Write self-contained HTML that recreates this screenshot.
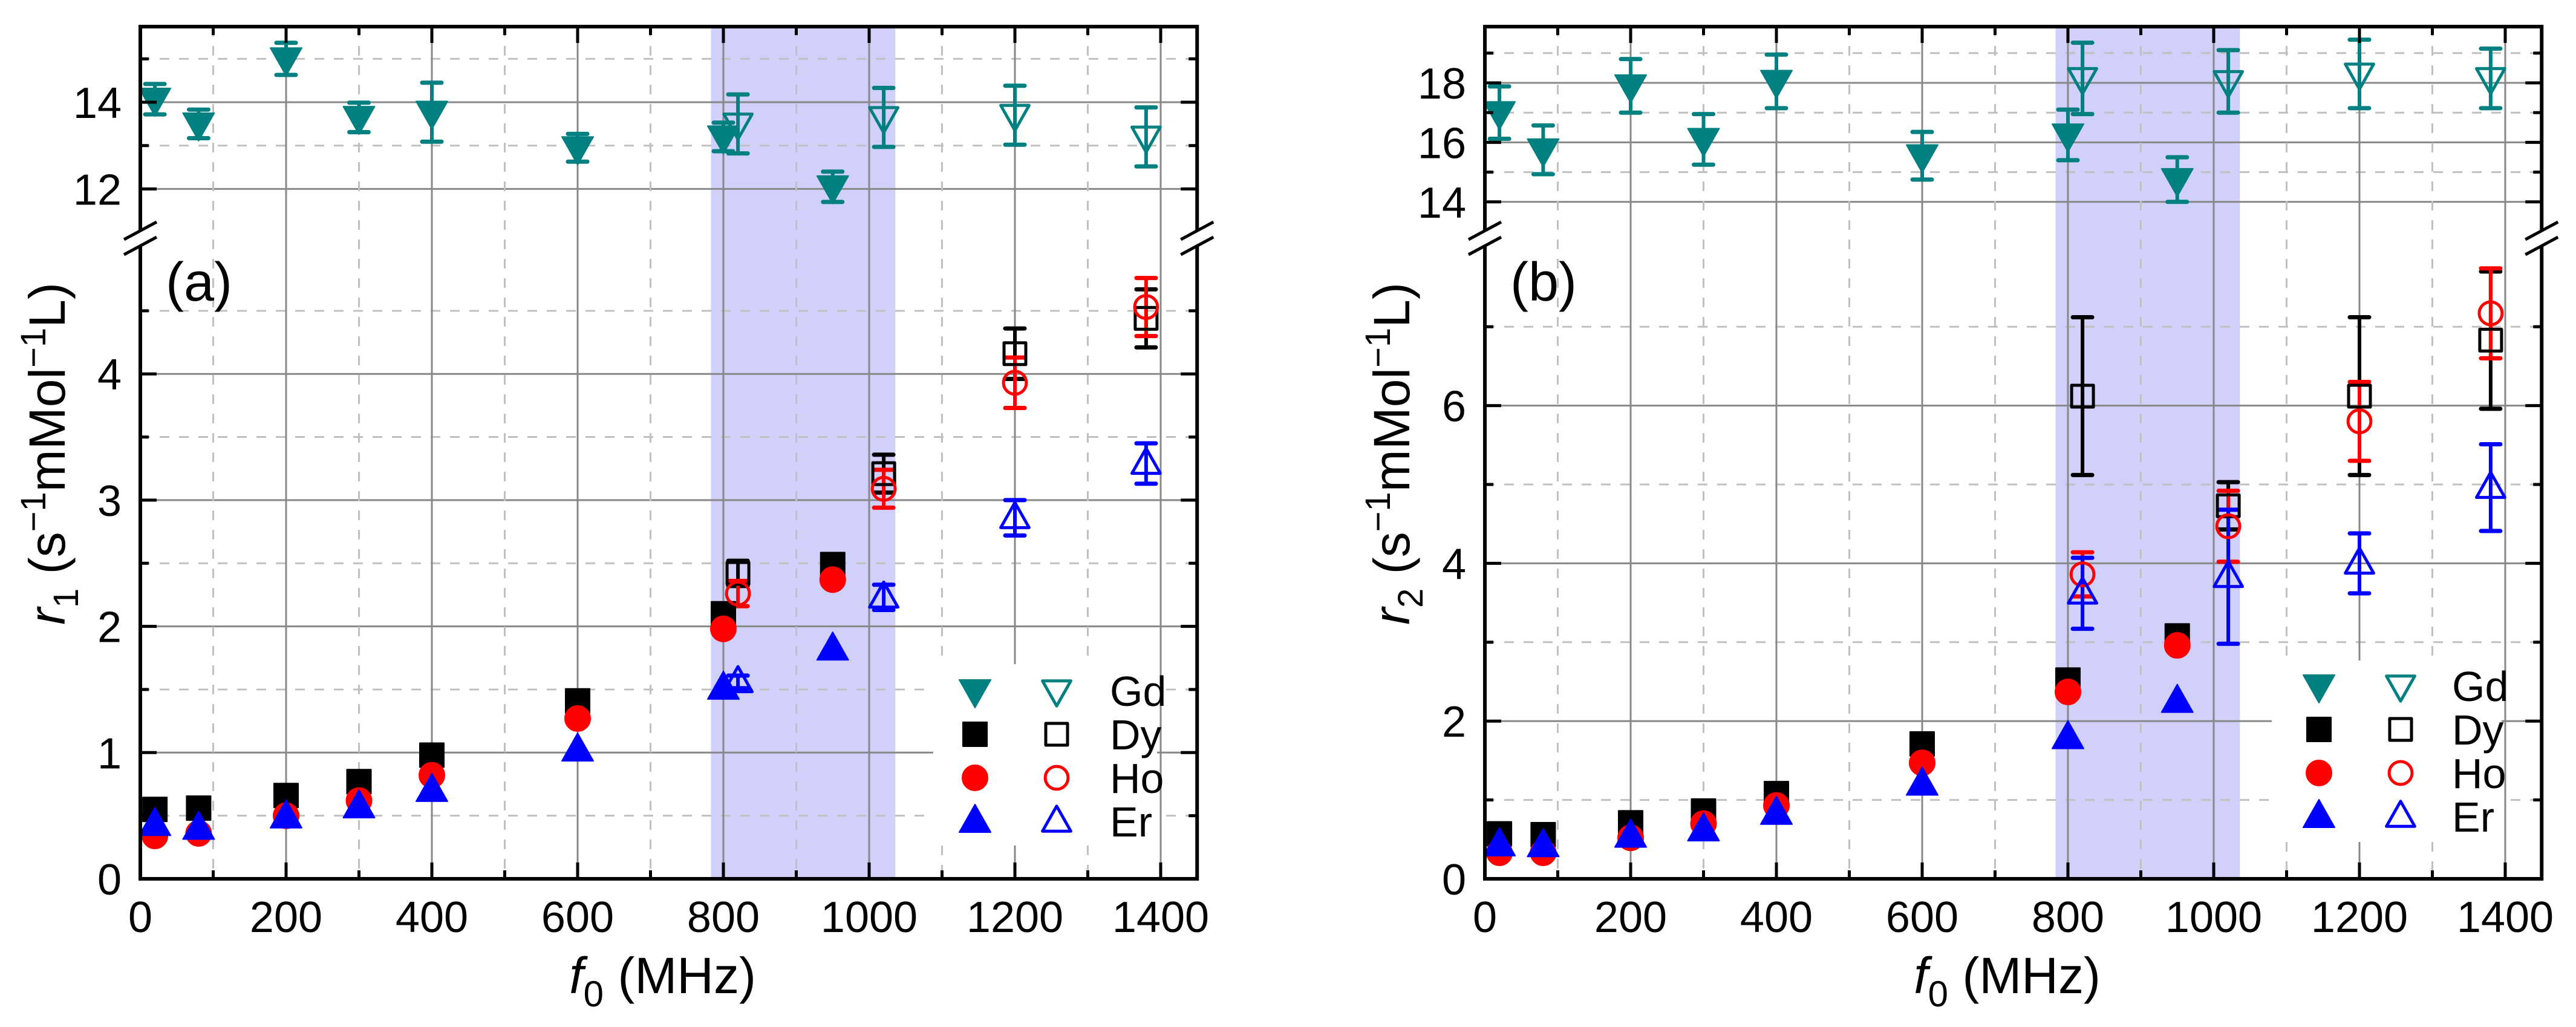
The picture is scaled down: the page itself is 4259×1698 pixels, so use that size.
<!DOCTYPE html>
<html><head><meta charset="utf-8">
<style>
html,body{margin:0;padding:0;background:#fff;}
svg{display:block;font-family:"Liberation Sans",Arial,sans-serif;}
</style></head>
<body>
<svg id="chart" width="4259" height="1698" viewBox="0 0 4259 1698" xmlns="http://www.w3.org/2000/svg">
<g id="panelA"></g>
<g id="panelB"></g>
</svg>
<script>
const xFilled = [20, 80, 200, 300, 400, 600, 800, 950];
const xOpen = [820, 1020, 1200, 1380];
const xTicks = [0, 200, 400, 600, 800, 1000, 1200, 1400];
// panel a (r1)
const aGdF = [14.07, 13.5, 15.0, 13.65, 13.77, 12.95, 13.2, 12.05];
const aGdFErr = [0.35, 0.33, 0.37, 0.34, 0.68, 0.32, 0.33, 0.35];
const aGdO = [13.5, 13.65, 13.7, 13.2];
const aGdOErr = [0.68, 0.68, 0.68, 0.68];
const aDyF = [0.55, 0.56, 0.66, 0.77, 0.98, 1.41, 2.1, 2.49];
const aDyO = [2.42, 3.21, 4.16, 4.44];
const aDyOErr = [0.1, 0.15, 0.2, 0.23];
const aHoF = [0.34, 0.36, 0.5, 0.62, 0.82, 1.27, 1.98, 2.37];
const aHoO = [2.26, 3.09, 3.93, 4.53];
const aHoOErr = [0.1, 0.15, 0.2, 0.23];
const aErF = [0.43, 0.4, 0.49, 0.57, 0.7, 1.02, 1.51, 1.82];
const aErO = [1.56, 2.23, 2.86, 3.29];
const aErOErr = [0.05, 0.1, 0.14, 0.16];
const aYTicksLow = [0, 1, 2, 3, 4];
const aYMinorLow = [0.5, 1.5, 2.5, 3.5, 4.5];
const aYTicksUp = [12, 14];
const aYMinorUp = [13, 15];
// panel b (r2)
const bGdF = [17.0, 15.75, 17.9, 16.1, 18.05, 15.55, 16.25, 14.75];
const bGdFErr = [0.88, 0.82, 0.9, 0.85, 0.9, 0.8, 0.85, 0.75];
const bGdO = [18.15, 18.05, 18.3, 18.15];
const bGdOErr = [1.2, 1.05, 1.15, 1.0];
const bDyF = [0.57, 0.56, 0.71, 0.86, 1.08, 1.71, 2.52, 3.08];
const bDyO = [6.12, 4.73, 6.12, 6.83];
const bDyOErr = [1.0, 0.3, 1.0, 0.87];
const bHoF = [0.33, 0.33, 0.52, 0.7, 0.93, 1.47, 2.37, 2.96];
const bHoO = [3.86, 4.47, 5.8, 7.17];
const bHoOErr = [0.28, 0.45, 0.5, 0.57];
const bErF = [0.43, 0.42, 0.54, 0.62, 0.83, 1.2, 1.79, 2.25];
const bErO = [3.62, 3.83, 4.0, 4.96];
const bErOErr = [0.45, 0.85, 0.38, 0.55];
const bYTicksLow = [0, 2, 4, 6];
const bYMinorLow = [1, 3, 5, 7];
const bYTicksUp = [14, 16, 18];
const bYMinorUp = [15, 17, 19];
const legendLabels = ["Gd", "Dy", "Ho", "Er"];
const band = [783, 1036];

const NS = "http://www.w3.org/2000/svg";
const TEAL = "#008080", BLUE = "#0000ff", RED = "#ff0000", BLK = "#000000";
function mk(parent, tag, attrs) {
  const e = document.createElementNS(NS, tag);
  for (const k in attrs) e.setAttribute(k, attrs[k]);
  parent.appendChild(e);
  return e;
}

function drawPanel(g, cfg, d) {
  const X = v => cfg.x0 + v * 1.205;
  const Y = v => v >= cfg.upMin ? cfg.upRef - (v - cfg.upRefV) * cfg.upK : 1453 - v * cfg.lowK;
  const L = cfg.x0, R = cfg.x0 + 1450 * 1.205, T = 44, B = 1453;
  const bnd = mk(g, "rect", {x: X(band[0]), y: T, width: X(band[1]) - X(band[0]), height: B - T, fill: "#d0d0fa"});
  
  
  const grid = mk(g, "g", {});
  
  
  d.minorLow.concat(d.minorUp).forEach(v => mk(grid, "line", {x1: L, x2: R, y1: Y(v), y2: Y(v), stroke: "#c0c0c0", "stroke-width": 3, "stroke-dasharray": "16,16"}));
  d.ticksLow.concat(d.ticksUp).forEach(v => { if (v > 0) mk(grid, "line", {x1: L, x2: R, y1: Y(v), y2: Y(v), stroke: "#888", "stroke-width": 3}); });
  const lg = mk(g, "g", {});
  
  
  mk(lg, "rect", {x: cfg.legX, y: cfg.legY, width: X(1400) - 6 - cfg.legX, height: 300, fill: "#fff"});
  for (let v = 100; v < 1450; v += 200) {
    const ln = mk(grid, "line", {x1: X(v), x2: X(v), y1: T, y2: B, stroke: "#c0c0c0", "stroke-width": 3, "stroke-dasharray": "16,16"});
    if (X(v) > cfg.legX) { ln.setAttribute("y2", cfg.legY); mk(grid, "line", {x1: X(v), x2: X(v), y1: cfg.legY + 300, y2: B, stroke: "#c0c0c0", "stroke-width": 3, "stroke-dasharray": "16,16"}); }
  }
  xTicks.forEach(v => {
    if (v <= 0) return;
    const ln = mk(grid, "line", {x1: X(v), x2: X(v), y1: T, y2: B, stroke: "#888", "stroke-width": 3});
    if (X(v) > cfg.legX && v < 1400) { ln.setAttribute("y2", cfg.legY); mk(grid, "line", {x1: X(v), x2: X(v), y1: cfg.legY + 300, y2: B, stroke: "#888", "stroke-width": 3}); }
  });
  g.appendChild(lg);
  function err(xs, ys, es, col) {
    xs.forEach((x, i) => {
      const px = X(x), y1 = Y(ys[i] - es[i]), y2 = Y(ys[i] + es[i]);
      mk(g, "line", {x1: px, x2: px, y1: y1, y2: y2, stroke: col, "stroke-width": 6});
      mk(g, "line", {x1: px - 16, x2: px + 16, y1: y1, y2: y1, stroke: col, "stroke-width": 7, "stroke-linecap": "round"});
      mk(g, "line", {x1: px - 16, x2: px + 16, y1: y2, y2: y2, stroke: col, "stroke-width": 7, "stroke-linecap": "round"});
    });
  }
  function marker(p, shape, px, py, col, filled) {
    const st = filled ? {fill: col, stroke: col, "stroke-width": 2, "stroke-linejoin": "round"} : {fill: "none", stroke: col, "stroke-width": 5, "stroke-linejoin": "round"};
    const s = filled ? 1 : 0.9;
    let e;
    if (shape === "down") e = mk(p, "polygon", Object.assign({points: `${px-26*s},${py-18*s} ${px+26*s},${py-18*s} ${px},${py+28*s}`}, st));
    else if (shape === "up") e = mk(p, "polygon", Object.assign({points: `${px-26*s},${py+18*s} ${px+26*s},${py+18*s} ${px},${py-28*s}`}, st));
    else if (shape === "sq") e = mk(p, "rect", Object.assign({x: px - 20*s, y: py - 20*s, width: 40*s, height: 40*s}, st));
    else e = mk(p, "circle", Object.assign({cx: px, cy: py, r: 21*s}, st));
    return e;
  }
  function series(name, xs, ys, shape, col, filled) {
    const sg = mk(g, "g", {});
    
    
    xs.forEach((x, i) => marker(sg, shape, X(x), Y(ys[i]), col, filled));
  }
  err(xFilled, d.gdF, d.gdFErr, TEAL);
  err(xOpen, d.gdO, d.gdOErr, TEAL);
  err(xOpen, d.dyO, d.dyOErr, BLK);
  err(xOpen, d.hoO, d.hoOErr, RED);
  err(xOpen, d.erO, d.erOErr, BLUE);
  series("gd-filled", xFilled, d.gdF, "down", TEAL, true);
  series("dy-filled", xFilled, d.dyF, "sq", BLK, true);
  series("ho-filled", xFilled, d.hoF, "ci", RED, true);
  series("er-filled", xFilled, d.erF, "up", BLUE, true);
  series("gd-open", xOpen, d.gdO, "down", TEAL, false);
  series("dy-open", xOpen, d.dyO, "sq", BLK, false);
  series("ho-open", xOpen, d.hoO, "ci", RED, false);
  series("er-open", xOpen, d.erO, "up", BLUE, false);
  const shapes = ["down", "sq", "ci", "up"], cols = [TEAL, BLK, RED, BLUE];
  legendLabels.forEach((lab, i) => {
    const ly = cfg.legRow0 + i * 72;
    marker(lg, shapes[i], cfg.legM1, ly, cols[i], true);
    marker(lg, shapes[i], cfg.legM2, ly, cols[i], false);
    const t = mk(lg, "text", {x: cfg.legT, y: ly + 25, "font-size": 70, fill: "#000"});
    t.textContent = lab;
    
    
  });
  const fr = mk(g, "rect", {x: L, y: T, width: R - L, height: B - T, fill: "none", stroke: "#000", "stroke-width": 6});
  
  
  const tk = mk(g, "g", {stroke: "#000", "stroke-width": 5});
  
  
  xTicks.forEach(v => { mk(tk, "line", {x1: X(v), x2: X(v), y1: B, y2: B - 27}); mk(tk, "line", {x1: X(v), x2: X(v), y1: T, y2: T + 27}); });
  for (let v = 100; v < 1450; v += 200) { mk(tk, "line", {x1: X(v), x2: X(v), y1: B, y2: B - 14}); mk(tk, "line", {x1: X(v), x2: X(v), y1: T, y2: T + 14}); }
  d.ticksLow.concat(d.ticksUp).forEach(v => { mk(tk, "line", {x1: L, x2: L + 27, y1: Y(v), y2: Y(v)}); mk(tk, "line", {x1: R, x2: R - 27, y1: Y(v), y2: Y(v)}); });
  d.minorLow.concat(d.minorUp).forEach(v => { mk(tk, "line", {x1: L, x2: L + 14, y1: Y(v), y2: Y(v)}); mk(tk, "line", {x1: R, x2: R - 14, y1: Y(v), y2: Y(v)}); });
  const tl = mk(g, "g", {"font-size": 72, fill: "#000"});
  
  
  xTicks.forEach(v => { const t = mk(tl, "text", {x: X(v), y: 1541, "text-anchor": "middle"}); t.textContent = v; });
  d.ticksLow.concat(d.ticksUp).forEach(v => { const t = mk(tl, "text", {x: L - 31, y: Y(v) + 26, "text-anchor": "end"}); t.textContent = v; });
  [L, R].forEach(bx => {
    const bk = mk(g, "g", {});
    
    
    mk(bk, "polygon", {points: `${bx-27},${cfg.brk+8} ${bx+27},${cfg.brk-21} ${bx+27},${cfg.brk+4} ${bx-27},${cfg.brk+33}`, fill: "#fff"});
    mk(bk, "line", {x1: bx - 27, y1: cfg.brk + 6, x2: bx + 27, y2: cfg.brk - 23, stroke: "#000", "stroke-width": 5});
    mk(bk, "line", {x1: bx - 27, y1: cfg.brk + 31, x2: bx + 27, y2: cfg.brk + 2, stroke: "#000", "stroke-width": 5});
  });
  const pl = mk(g, "text", {x: L + 42, y: 497, "font-size": 90, fill: "#000"});
  pl.textContent = cfg.label;
  
  
  const xt = mk(g, "text", {x: (L + R) / 2 - 10, y: 1642, "font-size": 84, fill: "#000", "text-anchor": "middle"});
  
  
  xt.innerHTML = '<tspan font-style="italic">f</tspan><tspan font-size="60" dy="22">0</tspan><tspan dy="-22"> (MHz)</tspan>';
  const yt = mk(g, "text", {x: 0, y: 0, "font-size": 84, fill: "#000", "text-anchor": "middle", transform: `translate(${L - 125},${750}) rotate(-90)`});
  
  
  yt.innerHTML = `<tspan font-style="italic">r</tspan><tspan font-size="58" dy="22">${cfg.sub}</tspan><tspan dy="-22"> (s</tspan><tspan font-size="58" dy="-32">−1</tspan><tspan dy="32">mMol</tspan><tspan font-size="58" dy="-32">−1</tspan><tspan dy="32">L)</tspan>`;
}

drawPanel(document.getElementById("panelA"),
  {x0: 232, upMin: 10, upRef: 169, upRefV: 14, upK: 71.7, lowK: 208.7, brk: 390,
   legX: 1543, legY: 1098, legRow0: 1142, legM1: 1612, legM2: 1747, legT: 1835, label: "(a)", sub: "1"},
  {gdF: aGdF, gdFErr: aGdFErr, gdO: aGdO, gdOErr: aGdOErr, dyF: aDyF, dyO: aDyO, dyOErr: aDyOErr,
   hoF: aHoF, hoO: aHoO, hoOErr: aHoOErr, erF: aErF, erO: aErO, erOErr: aErOErr,
   ticksLow: aYTicksLow, minorLow: aYMinorLow, ticksUp: aYTicksUp, minorUp: aYMinorUp});
drawPanel(document.getElementById("panelB"),
  {x0: 2455, upMin: 10, upRef: 137, upRefV: 18, upK: 49.2, lowK: 130.4, brk: 390,
   legX: 3756, legY: 1092, legRow0: 1134, legM1: 3834, legM2: 3969, legT: 4054, label: "(b)", sub: "2"},
  {gdF: bGdF, gdFErr: bGdFErr, gdO: bGdO, gdOErr: bGdOErr, dyF: bDyF, dyO: bDyO, dyOErr: bDyOErr,
   hoF: bHoF, hoO: bHoO, hoOErr: bHoOErr, erF: bErF, erO: bErO, erOErr: bErOErr,
   ticksLow: bYTicksLow, minorLow: bYMinorLow, ticksUp: bYTicksUp, minorUp: bYMinorUp});
</script>
</body></html>
